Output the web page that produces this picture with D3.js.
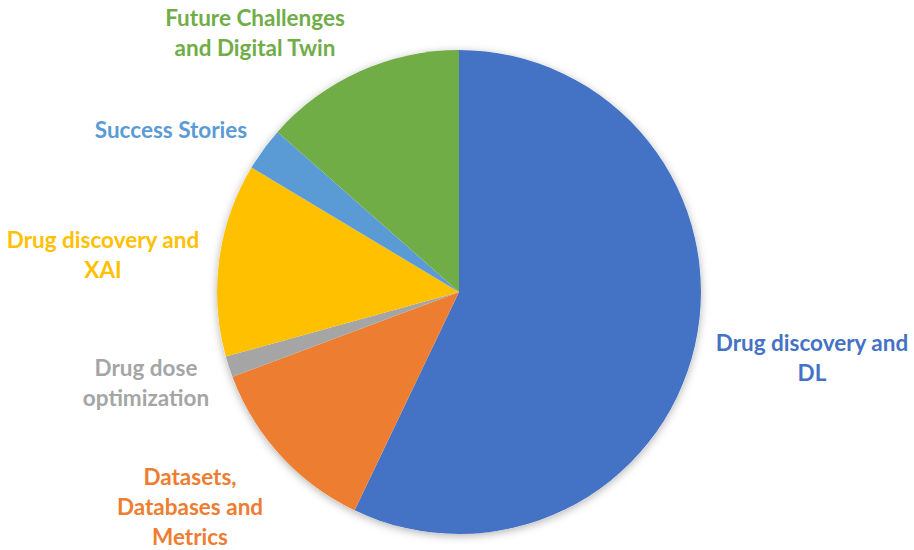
<!DOCTYPE html>
<html>
<head>
<meta charset="utf-8">
<script src="https://cdn.jsdelivr.net/npm/d3@7"></script>
<style>
  body { margin: 0; background: #fff; }
  svg { display: block; }
</style>
</head>
<body>
<svg></svg>
<script>
// data (share of the pie)
let categories = ["Drug discovery and DL", "Datasets, Databases and Metrics", "Drug dose optimization",
                  "Drug discovery and XAI", "Success Stories", "Future Challenges and Digital Twin"]
let values = [57.1, 12.2, 1.4, 12.9, 2.9, 13.5]
let colors = ["#4472C4", "#ED7D31", "#A5A5A5", "#FFC000", "#5B9BD5", "#70AD47"]

// label lines and where each label block is centred
let labelLines = [["Drug discovery and", "DL"], ["Datasets,", "Databases and", "Metrics"],
                  ["Drug dose", "optimization"], ["Drug discovery and", "XAI"],
                  ["Success Stories"], ["Future Challenges", "and Digital Twin"]]
let labelPos = [[812, 358], [190, 507], [146, 383], [103, 255], [171, 130], [255, 33]]

let width = 914
let height = 550
let cx = 459
let cy = 292
let radius = 242
let lineHeight = 30

let svg = d3.select("svg").attr("width", width).attr("height", height)

let defs = svg.append("defs")
let filter = defs.append("filter").attr("id", "shadow")
    .attr("x", "-10%").attr("y", "-10%").attr("width", "120%").attr("height", "120%")
filter.append("feDropShadow")
    .attr("dx", 0).attr("dy", 2).attr("stdDeviation", 4)
    .attr("flood-color", "#000").attr("flood-opacity", 0.3)

let pie = d3.pie().sort(null).value(d => d)
let arc = d3.arc().innerRadius(0).outerRadius(radius)

let g = svg.append("g").attr("transform", `translate(${cx},${cy})`)

g.append("circle").attr("r", radius).attr("fill", "#fff").attr("filter", "url(#shadow)")

g.selectAll("path")
    .data(pie(values))
    .enter()
    .append("path")
    .attr("d", arc)
    .attr("fill", (d, i) => colors[i])

let labels = svg.selectAll("text.label")
    .data(labelLines)
    .enter()
    .append("text")
    .attr("class", "label")
    .attr("text-anchor", "middle")
    .attr("fill", (d, i) => colors[i])
    .style("font-family", "Lato, 'Open Sans', sans-serif")
    .style("font-weight", "bold")
    .style("font-size", "22.5px")

labels.each(function (lines, i) {
    let [x, y] = labelPos[i]
    let top = y - (lines.length - 1) * lineHeight / 2
    d3.select(this).selectAll("tspan")
        .data(lines)
        .enter()
        .append("tspan")
        .attr("x", x)
        .attr("y", (d, j) => top + j * lineHeight)
        .attr("dy", "0.35em")
        .text(d => d)
})
</script>
</body>
</html>
